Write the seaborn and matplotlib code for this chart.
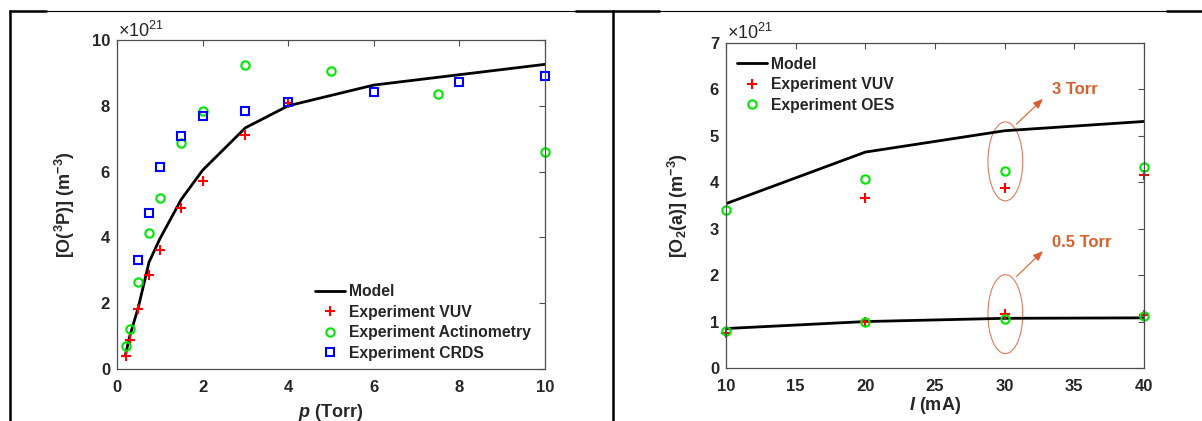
import matplotlib
matplotlib.use('Agg')
import matplotlib.pyplot as plt
import seaborn as sns
from matplotlib.patches import Ellipse
from matplotlib.lines import Line2D

# ---- left panel: [O(3P)] vs pressure, in units of 1e21 m^-3 ----
p_model = [0.2, 0.3, 0.5, 0.75, 1, 1.5, 2, 3, 4, 6, 10]
o3p_model = [0.44, 1.0, 1.88, 3.25, 3.95, 5.15, 6.04, 7.33, 8.0, 8.63, 9.26]
p_vuv = [0.2, 0.3, 0.5, 0.75, 1, 1.5, 2, 3, 4]
o3p_vuv = [0.39, 0.89, 1.83, 2.86, 3.63, 4.88, 5.72, 7.12, 8.1]
p_act = [0.2, 0.3, 0.5, 0.75, 1, 1.5, 2, 3, 5, 7.5, 10]
o3p_act = [0.69, 1.22, 2.63, 4.13, 5.2, 6.87, 7.85, 9.25, 9.06, 8.35, 6.59]
p_crds = [0.5, 0.75, 1, 1.5, 2, 3, 4, 6, 8, 10]
o3p_crds = [3.32, 4.73, 6.13, 7.09, 7.7, 7.83, 8.13, 8.42, 8.71, 8.92]

# ---- right panel: [O2(a)] vs discharge current ----
i_ma = [10, 20, 30, 40]
o2a_model_3 = [3.54, 4.65, 5.11, 5.31]
o2a_model_05 = [0.85, 1.0, 1.07, 1.08]
i_vuv_3 = [20, 30, 40]
o2a_vuv_3 = [3.66, 3.87, 4.16]
o2a_vuv_05 = [0.75, 1.0, 1.16, 1.15]
o2a_oes_3 = [3.41, 4.06, 4.25, 4.32]
o2a_oes_05 = [0.8, 1.0, 1.06, 1.13]

sns.set_theme(style='white')
plt.rcParams['font.family'] = ['Liberation Sans', 'DejaVu Sans']
plt.rcParams['font.weight'] = 'bold'
plt.rcParams['axes.labelweight'] = 'bold'
plt.rcParams['mathtext.fontset'] = 'custom'
plt.rcParams['mathtext.rm'] = 'Liberation Sans:bold'
plt.rcParams['mathtext.bf'] = 'Liberation Sans:bold'
plt.rcParams['mathtext.it'] = 'Liberation Sans:italic:bold'
plt.rcParams['mathtext.default'] = 'regular'

RED, GREEN, BLUE = '#FF0000', '#00E600', '#0000FF'
ORANGE = '#D9602A'
AXC = '#4d4d4d'


def markers(ax, x, y, marker, color, ms, label=None):
    sns.lineplot(x=x, y=y, ax=ax, marker=marker, linestyle='', color=color,
                 markersize=ms, markerfacecolor='none', markeredgecolor=color,
                 markeredgewidth=1.5, label=label, clip_on=False, sort=False,
                 errorbar=None)


def style_axes(ax):
    for s in ax.spines.values():
        s.set_color(AXC)
        s.set_linewidth(0.9)
        s.set_visible(True)
    ax.tick_params(direction='in', top=True, right=True, length=4, width=0.8,
                   color=AXC, labelsize=12, labelcolor='#262626')
    ax.tick_params(axis='x', pad=8)
    ax.tick_params(axis='y', pad=5)
    ax.grid(False)


fig = plt.figure(figsize=(12.02, 4.21), dpi=100)
ax1 = fig.add_axes([0.0973, 0.1235, 0.3561, 0.7815])
ax2 = fig.add_axes([0.604, 0.1259, 0.3477, 0.772])

# left
sns.lineplot(x=p_model, y=o3p_model, ax=ax1, color='black', linewidth=2,
             label='Model', sort=False, errorbar=None)
markers(ax1, p_vuv, o3p_vuv, '+', RED, 7, 'Experiment VUV')
markers(ax1, p_act, o3p_act, 'o', GREEN, 6, 'Experiment Actinometry')
markers(ax1, p_crds, o3p_crds, 's', BLUE, 5.5, 'Experiment CRDS')
ax1.set_xlim(0, 10)
ax1.set_ylim(0, 10)
ax1.set_xticks(range(0, 11, 2))
ax1.set_yticks(range(0, 11, 2))
style_axes(ax1)
ax1.set_xlabel(r'$\mathit{p}$ (Torr)', fontsize=13, va='top')
ax1.xaxis.set_label_coords(0.5, -0.10)
ax1.set_ylabel(r'[O($^{3}$P)] (m$^{-3}$)', fontsize=13)
ax1.yaxis.set_label_coords(-0.093, 0.5)
ax1.text(0.002, 1.009, r'$\times$10$^{21}$', transform=ax1.transAxes,
         fontsize=13, fontweight='normal', color='#262626')
ax1.legend(loc='upper left', bbox_to_anchor=(0.463, 0.258), frameon=False,
           fontsize=11.3, handlelength=1.9, handletextpad=0.25,
           labelspacing=0.35, borderpad=0, borderaxespad=0, numpoints=1)

# right
sns.lineplot(x=i_ma, y=o2a_model_3, ax=ax2, color='black', linewidth=2,
             label='Model', sort=False, errorbar=None)
sns.lineplot(x=i_ma, y=o2a_model_05, ax=ax2, color='black', linewidth=2,
             sort=False, errorbar=None)
markers(ax2, i_vuv_3, o2a_vuv_3, '+', RED, 7, 'Experiment VUV')
markers(ax2, i_ma, o2a_vuv_05, '+', RED, 7)
markers(ax2, i_ma, o2a_oes_3, 'o', GREEN, 6, 'Experiment OES')
markers(ax2, i_ma, o2a_oes_05, 'o', GREEN, 6)
ax2.set_xlim(10, 40)
ax2.set_ylim(0, 7)
ax2.set_xticks(range(10, 41, 5))
ax2.set_yticks(range(0, 8))
style_axes(ax2)
ax2.set_xlabel(r'$\mathit{I}$ (mA)', fontsize=13, va='top')
ax2.xaxis.set_label_coords(0.5, -0.083)
ax2.set_ylabel(r'[O$_{2}$(a)] (m$^{-3}$)', fontsize=13)
ax2.yaxis.set_label_coords(-0.086, 0.5)
ax2.text(0.002, 1.012, r'$\times$10$^{21}$', transform=ax2.transAxes,
         fontsize=13, fontweight='normal', color='#262626')
ax2.legend(loc='upper left', bbox_to_anchor=(0.026, 0.957), frameon=False,
           fontsize=11.3, handlelength=1.9, handletextpad=0.25,
           labelspacing=0.35, borderpad=0, borderaxespad=0, numpoints=1)

# pressure annotations
for cy, ty, lbl in [(4.45, 5.84, '3 Torr'), (1.16, 2.56, '0.5 Torr')]:
    ax2.add_patch(Ellipse((30.05, cy), width=2.5, height=1.7, fill=False,
                          edgecolor='#E07A58', linewidth=0.8))
    ax2.annotate('', xy=(32.9, ty), xytext=(30.7, ty - 0.63),
                 arrowprops=dict(arrowstyle='-|>,head_length=0.5,head_width=0.2',
                                 color=ORANGE, lw=0.8))
    ax2.text(33.4, ty + 0.15, lbl, color=ORANGE, fontsize=12,
             fontweight='bold', va='center', ha='left')

# table borders around the two panels
W, H = 1202, 421
def hline(x0, x1, y, lw):
    fig.add_artist(Line2D([x0 / W, x1 / W], [1 - y / H, 1 - y / H],
                          color='black', lw=lw, solid_capstyle='butt'))
def vline(x, y0, y1, lw):
    fig.add_artist(Line2D([x / W, x / W], [1 - y0 / H, 1 - y1 / H],
                          color='black', lw=lw, solid_capstyle='butt'))

hline(10, 1202, 10.8, 0.8)
for a, b in [(9, 47), (575, 660), (1166, 1202)]:
    hline(a, b, 11, 1.8)
vline(10, 10, 421, 1.8)
vline(613, 10, 421, 1.8)

fig.savefig('out.png', dpi=100)
